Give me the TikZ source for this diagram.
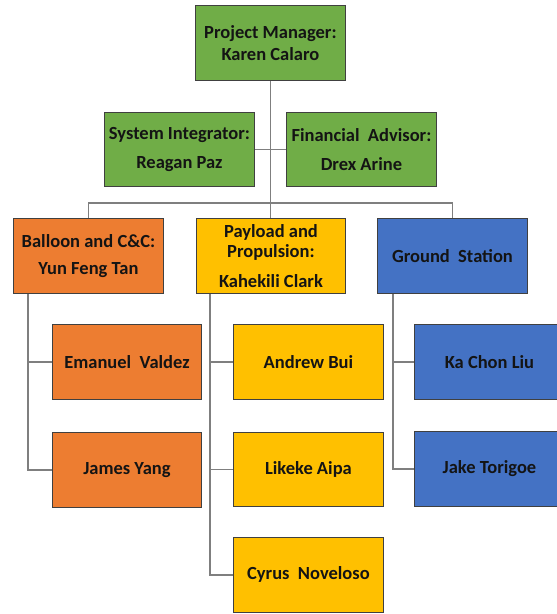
\documentclass[tikz,border=0pt]{standalone}
\usepackage{fontspec}
\setmainfont{Carlito}
\usetikzlibrary{calc}
\definecolor{gboxfill}{HTML}{70AD47}
\definecolor{oboxfill}{HTML}{ED7D31}
\definecolor{yboxfill}{HTML}{FFC000}
\definecolor{bboxfill}{HTML}{4472C4}
\definecolor{boxedge}{HTML}{404040}
\definecolor{wire}{HTML}{7F7F7F}
\definecolor{ink}{HTML}{141414}
\tikzset{
  box/.style={draw=boxedge, line width=0.9pt, anchor=north west,
    minimum width=150pt, minimum height=75pt, inner sep=2pt,
    align=center, text=ink,
    font=\fontsize{18.5}{22}\selectfont\bfseries},
  greenbox/.style={box, fill=gboxfill},
  orangebox/.style={box, fill=oboxfill},
  goldbox/.style={box, fill=yboxfill},
  bluebox/.style={box, fill=bboxfill},
  link/.style={draw=wire, line width=1.3pt}
}
\begin{document}
\begin{tikzpicture}[x=1pt,y=-1pt]
\useasboundingbox (0,0) rectangle (557,614);
% management level
\node[greenbox] (pm) at (195,5) {Project Manager:\\Karen Calaro};
\node[greenbox, minimum height=74pt] (si) at (104,112) {System Integrator:\\[7pt]Reagan Paz};
\node[greenbox, minimum height=74pt] (fa) at (286,112) {Financial\ \ Advisor:\\[7pt]Drex Arine};
% team leads
\node[orangebox] (bal) at (13,218) {Balloon and C\&C:\\[5pt]Yun Feng Tan};
\node[goldbox, minimum width=149pt, font=\fontsize{18.5}{20}\selectfont\bfseries] (pay) at (196,218) {Payload and\\Propulsion:\\[10pt]Kahekili Clark};
\node[bluebox] (gs) at (377,218) {Ground\ \ Station};
% members
\node[orangebox, minimum width=149pt] (ev) at (52,324) {Emanuel\ \ Valdez};
\node[orangebox, minimum width=149pt] (jy) at (52,432) {James Yang};
\node[goldbox] (ab) at (233,324) {Andrew Bui};
\node[goldbox, minimum height=74pt] (la) at (233,432) {Likeke Aipa};
\node[goldbox] (cn) at (233,537) {Cyrus\ \ Noveloso};
\node[bluebox] (kcl) at (414,324) {Ka Chon Liu};
\node[bluebox] (jt) at (414,431) {Jake Torigoe};
% connectors
\draw[link] (pm.south) -- (pay.north -| pm.south);
\draw[link] (si.east) -- (fa.west);
\draw[link] (bal.north) -- ++(0,-15) -| (gs.north);
\coordinate (balv) at ($(bal.south west)+(15,0)$);
\coordinate (payv) at ($(pay.south west)+(14,0)$);
\coordinate (gsv) at ($(gs.south west)+(16,0)$);
\draw[link] (balv) |- (ev.west);
\draw[link] (balv) |- (jy.west);
\draw[link] (payv) |- (ab.west);
\draw[link] (payv) |- (la.west);
\draw[link] (payv) |- (cn.west);
\draw[link] (gsv) |- (kcl.west);
\draw[link] (gsv) |- (jt.west);
\end{tikzpicture}
\end{document}
